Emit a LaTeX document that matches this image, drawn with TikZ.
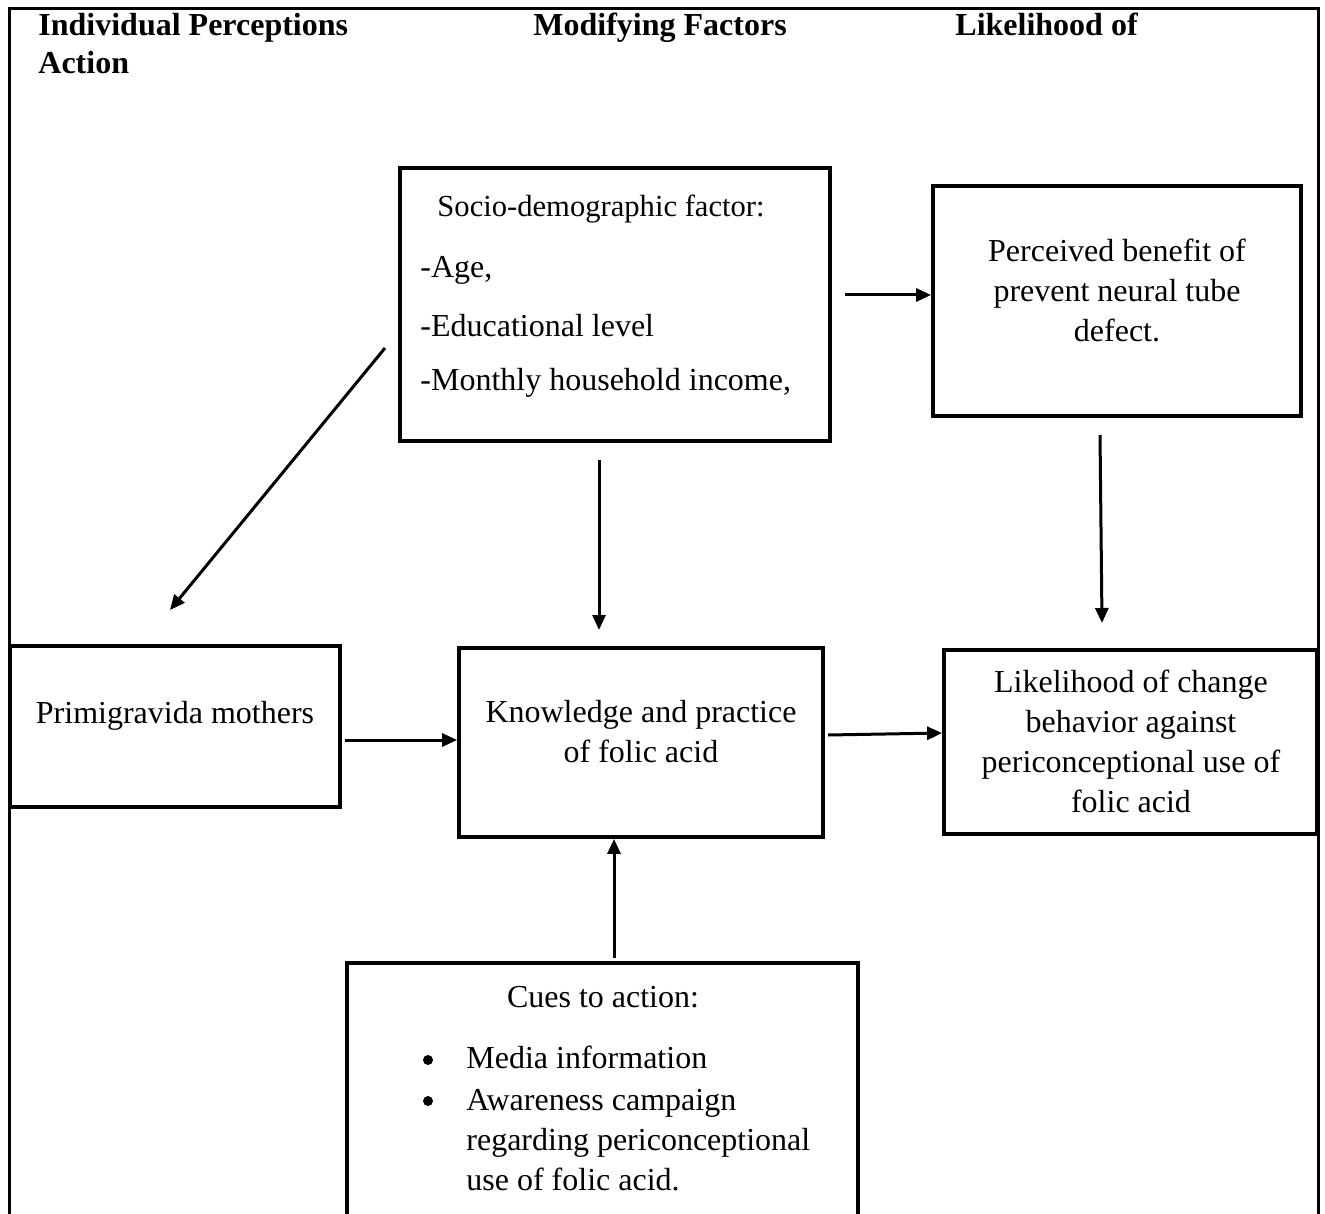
\documentclass[tikz,border=0pt]{standalone}
\usepackage{fontspec}
\setmainfont{Liberation Serif}
\usetikzlibrary{arrows.meta}
\begin{document}
\begin{tikzpicture}[x=0.5pt,y=-0.5pt,
  every node/.style={font=\fontsize{16}{20}\selectfont, inner sep=0pt},
  box/.style={draw, line width=1.9pt, inner sep=0pt},
  frame/.style={draw, line width=1.5pt},
  arr/.style={line width=1.5pt, -{Triangle[length=7.5pt,width=6.5pt]}},
  hdr/.style={anchor=base west, font=\fontsize{16}{20}\selectfont\bfseries},
  txt/.style={align=center},
  ltxt/.style={anchor=west},
  bul/.style={circle, fill=black, minimum size=5pt, inner sep=0pt}]
\clip (0,0) rectangle (1325,1213);
\fill[white] (0,0) rectangle (1325,1213);
% frame
\draw[frame] (9,1240) -- (9,9) -- (1318,9) -- (1318,1240);
% headers
\node[hdr] (h1) at (38,36) {Individual Perceptions};
\node[hdr] (h1b) at (38,74) {Action};
\node[hdr] (h2) at (533,36) {Modifying Factors};
\node[hdr] (h3) at (955,36) {Likelihood of};
% boxes
\node[box, minimum width=215pt, minimum height=136.5pt] (soc) at (615,304.5) {};
\node[box, minimum width=184pt, minimum height=115pt] (per) at (1117,301) {};
\node[box, minimum width=165pt, minimum height=80.5pt] (pri) at (175,726.5) {};
\node[box, minimum width=182pt, minimum height=94.5pt] (kno) at (641,742.5) {};
\node[box, minimum width=186.5pt, minimum height=92pt] (lik) at (1130.5,742) {};
\node[box, minimum width=255.5pt, minimum height=140pt] (cue) at (602.5,1103) {};
% texts
\node[txt, font=\fontsize{15.3}{18}\selectfont] (soct) at (601,209) {Socio-demographic factor:};
\node[ltxt] (s1) at (420,270) {-Age,};
\node[ltxt] (s2) at (420,326) {-Educational level};
\node[ltxt] (s3) at (420,383) {-Monthly household income,};
\node[txt] (pert) at (1117,290) {Perceived benefit of\\prevent neural tube\\defect.};
\node[txt] (prit) at (175,716) {Primigravida mothers};
\node[txt] (knot) at (641,732) {Knowledge and practice\\of folic acid};
\node[txt] (likt) at (1131,741) {Likelihood of change\\behavior against\\periconceptional use of\\folic acid};
\node[txt] (cuet) at (603,997) {Cues to action:};
\node[bul] (b1) at (428,1060) {};
\node[bul] (b2) at (428,1101) {};
\node[ltxt] (c1) at (466,1057) {Media information};
\node[ltxt, align=left] (c2) at (466,1140) {Awareness campaign\\regarding periconceptional\\use of folic acid.};
% arrow end points
\coordinate (a1s) at (845,295);
\coordinate (a2s) at (385,348);
\coordinate (a2e) at (170,610);
\coordinate (a3s) at (599,460);
\coordinate (a3e) at (599,630);
\coordinate (a4s) at (1100,435);
\coordinate (a4e) at (1102,623);
\coordinate (a5s) at (345,740);
\coordinate (a6s) at (828,735);
\coordinate (a7s) at (614,958);
% arrows
\draw[arr] (a1s) -- (per.west |- a1s);
\draw[arr] (a2s) -- (a2e);
\draw[arr] (a3s) -- (a3e);
\draw[arr] (a4s) -- (a4e);
\draw[arr] (a5s) -- (kno.west |- a5s);
\draw[arr] (a6s) -- (lik.west |- 0,733);
\draw[arr] (a7s) -- (a7s |- kno.south);
\end{tikzpicture}
\end{document}
